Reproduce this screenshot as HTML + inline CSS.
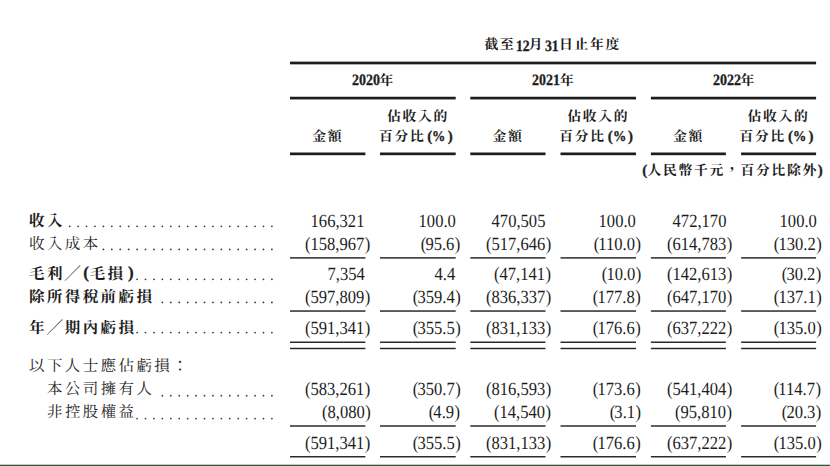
<!DOCTYPE html>
<html lang="zh-Hant"><head><meta charset="utf-8"><title>Financial table</title>
<style>
html,body{margin:0;padding:0;background:#fff}
body{width:830px;height:466px;position:relative;overflow:hidden;font-family:"Liberation Serif","Noto Serif CJK SC",serif;color:#1d1d1d;text-rendering:geometricPrecision}
#g{position:absolute;left:0;top:0;width:830px;height:466px}
.t{position:absolute;white-space:nowrap;line-height:1;font-family:"Liberation Serif","Noto Serif CJK SC",serif}
.t::before{content:"";display:inline-block;width:0;height:20px}
.b{font-weight:bold;-webkit-text-stroke:0.30px #1d1d1d}
.h,.h.b{position:absolute;white-space:nowrap;line-height:1;color:#1d1d1d;-webkit-text-stroke:0 transparent;font-family:"Liberation Serif","Noto Serif CJK SC",serif}
.p{font-style:normal;margin-left:0.50px}
.q{font-style:normal;margin-right:-1.10px}
</style></head><body>
<svg id="g" viewBox="0 0 830 466" fill="#1d1d1d"><g fill="#3a3a3a"><circle cx="271.90" cy="226.30" r="0.90"/><circle cx="263.47" cy="226.30" r="0.90"/><circle cx="255.05" cy="226.30" r="0.90"/><circle cx="246.62" cy="226.30" r="0.90"/><circle cx="238.20" cy="226.30" r="0.90"/><circle cx="229.77" cy="226.30" r="0.90"/><circle cx="221.35" cy="226.30" r="0.90"/><circle cx="212.92" cy="226.30" r="0.90"/><circle cx="204.50" cy="226.30" r="0.90"/><circle cx="196.07" cy="226.30" r="0.90"/><circle cx="187.65" cy="226.30" r="0.90"/><circle cx="179.22" cy="226.30" r="0.90"/><circle cx="170.80" cy="226.30" r="0.90"/><circle cx="162.37" cy="226.30" r="0.90"/><circle cx="153.95" cy="226.30" r="0.90"/><circle cx="145.52" cy="226.30" r="0.90"/><circle cx="137.10" cy="226.30" r="0.90"/><circle cx="128.67" cy="226.30" r="0.90"/><circle cx="120.25" cy="226.30" r="0.90"/><circle cx="111.82" cy="226.30" r="0.90"/><circle cx="103.40" cy="226.30" r="0.90"/><circle cx="94.97" cy="226.30" r="0.90"/><circle cx="86.55" cy="226.30" r="0.90"/><circle cx="78.12" cy="226.30" r="0.90"/><circle cx="69.70" cy="226.30" r="0.90"/><circle cx="271.90" cy="249.45" r="0.90"/><circle cx="263.47" cy="249.45" r="0.90"/><circle cx="255.05" cy="249.45" r="0.90"/><circle cx="246.62" cy="249.45" r="0.90"/><circle cx="238.20" cy="249.45" r="0.90"/><circle cx="229.77" cy="249.45" r="0.90"/><circle cx="221.35" cy="249.45" r="0.90"/><circle cx="212.92" cy="249.45" r="0.90"/><circle cx="204.50" cy="249.45" r="0.90"/><circle cx="196.07" cy="249.45" r="0.90"/><circle cx="187.65" cy="249.45" r="0.90"/><circle cx="179.22" cy="249.45" r="0.90"/><circle cx="170.80" cy="249.45" r="0.90"/><circle cx="162.37" cy="249.45" r="0.90"/><circle cx="153.95" cy="249.45" r="0.90"/><circle cx="145.52" cy="249.45" r="0.90"/><circle cx="137.10" cy="249.45" r="0.90"/><circle cx="128.67" cy="249.45" r="0.90"/><circle cx="120.25" cy="249.45" r="0.90"/><circle cx="111.82" cy="249.45" r="0.90"/><circle cx="103.40" cy="249.45" r="0.90"/><circle cx="271.90" cy="279.30" r="0.90"/><circle cx="263.47" cy="279.30" r="0.90"/><circle cx="255.05" cy="279.30" r="0.90"/><circle cx="246.62" cy="279.30" r="0.90"/><circle cx="238.20" cy="279.30" r="0.90"/><circle cx="229.77" cy="279.30" r="0.90"/><circle cx="221.35" cy="279.30" r="0.90"/><circle cx="212.92" cy="279.30" r="0.90"/><circle cx="204.50" cy="279.30" r="0.90"/><circle cx="196.07" cy="279.30" r="0.90"/><circle cx="187.65" cy="279.30" r="0.90"/><circle cx="179.22" cy="279.30" r="0.90"/><circle cx="170.80" cy="279.30" r="0.90"/><circle cx="162.37" cy="279.30" r="0.90"/><circle cx="153.95" cy="279.30" r="0.90"/><circle cx="145.52" cy="279.30" r="0.90"/><circle cx="137.10" cy="279.30" r="0.90"/><circle cx="271.90" cy="302.45" r="0.90"/><circle cx="263.47" cy="302.45" r="0.90"/><circle cx="255.05" cy="302.45" r="0.90"/><circle cx="246.62" cy="302.45" r="0.90"/><circle cx="238.20" cy="302.45" r="0.90"/><circle cx="229.77" cy="302.45" r="0.90"/><circle cx="221.35" cy="302.45" r="0.90"/><circle cx="212.92" cy="302.45" r="0.90"/><circle cx="204.50" cy="302.45" r="0.90"/><circle cx="196.07" cy="302.45" r="0.90"/><circle cx="187.65" cy="302.45" r="0.90"/><circle cx="179.22" cy="302.45" r="0.90"/><circle cx="170.80" cy="302.45" r="0.90"/><circle cx="162.37" cy="302.45" r="0.90"/><circle cx="271.90" cy="332.60" r="0.90"/><circle cx="263.47" cy="332.60" r="0.90"/><circle cx="255.05" cy="332.60" r="0.90"/><circle cx="246.62" cy="332.60" r="0.90"/><circle cx="238.20" cy="332.60" r="0.90"/><circle cx="229.77" cy="332.60" r="0.90"/><circle cx="221.35" cy="332.60" r="0.90"/><circle cx="212.92" cy="332.60" r="0.90"/><circle cx="204.50" cy="332.60" r="0.90"/><circle cx="196.07" cy="332.60" r="0.90"/><circle cx="187.65" cy="332.60" r="0.90"/><circle cx="179.22" cy="332.60" r="0.90"/><circle cx="170.80" cy="332.60" r="0.90"/><circle cx="162.37" cy="332.60" r="0.90"/><circle cx="153.95" cy="332.60" r="0.90"/><circle cx="145.52" cy="332.60" r="0.90"/><circle cx="137.10" cy="332.60" r="0.90"/><circle cx="271.90" cy="395.70" r="0.90"/><circle cx="263.47" cy="395.70" r="0.90"/><circle cx="255.05" cy="395.70" r="0.90"/><circle cx="246.62" cy="395.70" r="0.90"/><circle cx="238.20" cy="395.70" r="0.90"/><circle cx="229.77" cy="395.70" r="0.90"/><circle cx="221.35" cy="395.70" r="0.90"/><circle cx="212.92" cy="395.70" r="0.90"/><circle cx="204.50" cy="395.70" r="0.90"/><circle cx="196.07" cy="395.70" r="0.90"/><circle cx="187.65" cy="395.70" r="0.90"/><circle cx="179.22" cy="395.70" r="0.90"/><circle cx="170.80" cy="395.70" r="0.90"/><circle cx="162.37" cy="395.70" r="0.90"/><circle cx="271.90" cy="418.55" r="0.90"/><circle cx="263.47" cy="418.55" r="0.90"/><circle cx="255.05" cy="418.55" r="0.90"/><circle cx="246.62" cy="418.55" r="0.90"/><circle cx="238.20" cy="418.55" r="0.90"/><circle cx="229.77" cy="418.55" r="0.90"/><circle cx="221.35" cy="418.55" r="0.90"/><circle cx="212.92" cy="418.55" r="0.90"/><circle cx="204.50" cy="418.55" r="0.90"/><circle cx="196.07" cy="418.55" r="0.90"/><circle cx="187.65" cy="418.55" r="0.90"/><circle cx="179.22" cy="418.55" r="0.90"/><circle cx="170.80" cy="418.55" r="0.90"/><circle cx="162.37" cy="418.55" r="0.90"/><circle cx="153.95" cy="418.55" r="0.90"/><circle cx="145.52" cy="418.55" r="0.90"/><circle cx="137.10" cy="418.55" r="0.90"/></g><rect x="290.00" y="61.65" width="526.10" height="2.70"/><rect x="290.00" y="96.75" width="165.70" height="2.70"/><rect x="470.30" y="96.75" width="165.70" height="2.70"/><rect x="650.90" y="96.75" width="165.20" height="2.70"/><rect x="290.00" y="152.50" width="75.40" height="2.70"/><rect x="380.00" y="152.50" width="75.70" height="2.70"/><rect x="470.30" y="152.50" width="75.20" height="2.70"/><rect x="560.50" y="152.50" width="75.50" height="2.70"/><rect x="650.90" y="152.50" width="75.00" height="2.70"/><rect x="741.10" y="152.50" width="75.00" height="2.70"/><rect x="290.00" y="257.17" width="75.40" height="1.45" fill="#262626"/><rect x="380.00" y="257.17" width="75.70" height="1.45" fill="#262626"/><rect x="470.30" y="257.17" width="75.20" height="1.45" fill="#262626"/><rect x="560.50" y="257.17" width="75.50" height="1.45" fill="#262626"/><rect x="650.90" y="257.17" width="75.00" height="1.45" fill="#262626"/><rect x="741.10" y="257.17" width="75.00" height="1.45" fill="#262626"/><rect x="290.00" y="310.32" width="75.40" height="1.45" fill="#262626"/><rect x="380.00" y="310.32" width="75.70" height="1.45" fill="#262626"/><rect x="470.30" y="310.32" width="75.20" height="1.45" fill="#262626"/><rect x="560.50" y="310.32" width="75.50" height="1.45" fill="#262626"/><rect x="650.90" y="310.32" width="75.00" height="1.45" fill="#262626"/><rect x="741.10" y="310.32" width="75.00" height="1.45" fill="#262626"/><rect x="290.00" y="425.27" width="75.40" height="1.45" fill="#262626"/><rect x="380.00" y="425.27" width="75.70" height="1.45" fill="#262626"/><rect x="470.30" y="425.27" width="75.20" height="1.45" fill="#262626"/><rect x="560.50" y="425.27" width="75.50" height="1.45" fill="#262626"/><rect x="650.90" y="425.27" width="75.00" height="1.45" fill="#262626"/><rect x="741.10" y="425.27" width="75.00" height="1.45" fill="#262626"/><rect x="290.00" y="456.02" width="75.40" height="1.45" fill="#262626"/><rect x="380.00" y="456.02" width="75.70" height="1.45" fill="#262626"/><rect x="470.30" y="456.02" width="75.20" height="1.45" fill="#262626"/><rect x="560.50" y="456.02" width="75.50" height="1.45" fill="#262626"/><rect x="650.90" y="456.02" width="75.00" height="1.45" fill="#262626"/><rect x="741.10" y="456.02" width="75.00" height="1.45" fill="#262626"/><rect x="290.00" y="341.52" width="75.40" height="1.45" fill="#262626"/><rect x="380.00" y="341.52" width="75.70" height="1.45" fill="#262626"/><rect x="470.30" y="341.52" width="75.20" height="1.45" fill="#262626"/><rect x="560.50" y="341.52" width="75.50" height="1.45" fill="#262626"/><rect x="650.90" y="341.52" width="75.00" height="1.45" fill="#262626"/><rect x="741.10" y="341.52" width="75.00" height="1.45" fill="#262626"/><rect x="290.00" y="347.77" width="75.40" height="1.45" fill="#262626"/><rect x="380.00" y="347.77" width="75.70" height="1.45" fill="#262626"/><rect x="470.30" y="347.77" width="75.20" height="1.45" fill="#262626"/><rect x="560.50" y="347.77" width="75.50" height="1.45" fill="#262626"/><rect x="650.90" y="347.77" width="75.00" height="1.45" fill="#262626"/><rect x="741.10" y="347.77" width="75.00" height="1.45" fill="#262626"/><rect x="0" y="464.70" width="830" height="1.30" fill="#2d5c37"/></svg>

<span class="h b" style="left:484.4px;top:38.3px;font-size:13.8px;letter-spacing:1.7px">截至</span>
<span class="t b" style="top:31px;font-size:15.80px;transform:scaleX(0.8700);transform-origin:0 0;left:515.68px;">12</span>
<span class="h b" style="left:528.8px;top:38.3px;font-size:13.8px;letter-spacing:1.7px">月</span>
<span class="t b" style="top:31px;font-size:15.80px;transform:scaleX(0.8700);transform-origin:0 0;left:545.18px;">31</span>
<span class="h b" style="left:559.0px;top:38.3px;font-size:13.8px;letter-spacing:1.7px">日止年度</span>
<span class="t b" style="top:65px;font-size:15.80px;transform:scaleX(0.8850);transform-origin:0 0;left:351.57px;">2020</span>
<span class="h b" style="left:379.5px;top:74.3px;font-size:13.8px;letter-spacing:1.7px">年</span>
<span class="t b" style="top:65px;font-size:15.80px;transform:scaleX(0.8850);transform-origin:0 0;left:532.07px;">2021</span>
<span class="h b" style="left:560.0px;top:74.3px;font-size:13.8px;letter-spacing:1.7px">年</span>
<span class="t b" style="top:65px;font-size:15.80px;transform:scaleX(0.8850);transform-origin:0 0;left:712.57px;">2022</span>
<span class="h b" style="left:740.5px;top:74.3px;font-size:13.8px;letter-spacing:1.7px">年</span>
<span class="h b" style="left:312.2px;top:129.8px;font-size:13.8px;letter-spacing:1.7px">金額</span>
<span class="h b" style="left:386.9px;top:109.5px;font-size:13.8px;letter-spacing:1.7px">佔收入的</span>
<span class="h b" style="left:378.9px;top:129.8px;font-size:13.8px;letter-spacing:1.7px">百分比</span>
<span class="t b" style="top:121px;font-size:15.00px;left:427.25px;">(</span>
<span class="t b" style="top:121px;font-size:15.00px;transform:scaleX(0.8870);transform-origin:0 0;left:432.45px;">%</span>
<span class="t b" style="top:121px;font-size:15.00px;left:447.65px;">)</span>
<span class="h b" style="left:492.4px;top:129.8px;font-size:13.8px;letter-spacing:1.7px">金額</span>
<span class="h b" style="left:567.2px;top:109.5px;font-size:13.8px;letter-spacing:1.7px">佔收入的</span>
<span class="h b" style="left:559.2px;top:129.8px;font-size:13.8px;letter-spacing:1.7px">百分比</span>
<span class="t b" style="top:121px;font-size:15.00px;left:607.65px;">(</span>
<span class="t b" style="top:121px;font-size:15.00px;transform:scaleX(0.8870);transform-origin:0 0;left:612.85px;">%</span>
<span class="t b" style="top:121px;font-size:15.00px;left:628.05px;">)</span>
<span class="h b" style="left:672.9px;top:129.8px;font-size:13.8px;letter-spacing:1.7px">金額</span>
<span class="h b" style="left:747.6px;top:109.5px;font-size:13.8px;letter-spacing:1.7px">佔收入的</span>
<span class="h b" style="left:739.6px;top:129.8px;font-size:13.8px;letter-spacing:1.7px">百分比</span>
<span class="t b" style="top:121px;font-size:15.00px;left:788.00px;">(</span>
<span class="t b" style="top:121px;font-size:15.00px;transform:scaleX(0.8870);transform-origin:0 0;left:793.20px;">%</span>
<span class="t b" style="top:121px;font-size:15.00px;left:808.40px;">)</span>
<span class="t b" style="top:155px;font-size:15.00px;left:642.30px;">(</span>
<span class="h b" style="left:647.6px;top:164.0px;font-size:13.8px;letter-spacing:1.7px">人民幣千元，百分比除外</span>
<span class="t b" style="top:155px;font-size:15.00px;left:817.80px;">)</span>
<span class="h b" style="left:29.0px;top:214.0px;font-size:15.5px;letter-spacing:2.4px">收入</span>
<span class="t" style="top:207px;font-size:18.60px;transform:scaleX(0.8910);transform-origin:100% 0;right:465.30px;">166,321</span>
<span class="t" style="top:207px;font-size:18.60px;transform:scaleX(0.8910);transform-origin:100% 0;right:374.40px;">100.0</span>
<span class="t" style="top:207px;font-size:18.60px;transform:scaleX(0.8910);transform-origin:100% 0;right:284.90px;">470,505</span>
<span class="t" style="top:207px;font-size:18.60px;transform:scaleX(0.8910);transform-origin:100% 0;right:193.80px;">100.0</span>
<span class="t" style="top:207px;font-size:18.60px;transform:scaleX(0.8910);transform-origin:100% 0;right:103.70px;">472,170</span>
<span class="t" style="top:207px;font-size:18.60px;transform:scaleX(0.8910);transform-origin:100% 0;right:13.30px;">100.0</span>
<span class="h" style="left:29.0px;top:237.0px;font-size:15.5px;letter-spacing:2.4px">收入成本</span>
<span class="t" style="top:230px;font-size:18.60px;transform:scaleX(0.8910);transform-origin:100% 0;right:459.45px;">(158,967<i class="p">)</i></span>
<span class="t" style="top:230px;font-size:18.60px;transform:scaleX(0.8910);transform-origin:100% 0;right:369.75px;"><i class="q">(</i>95.6<i class="p">)</i></span>
<span class="t" style="top:230px;font-size:18.60px;transform:scaleX(0.8910);transform-origin:100% 0;right:279.05px;">(517,646<i class="p">)</i></span>
<span class="t" style="top:230px;font-size:18.60px;transform:scaleX(0.8910);transform-origin:100% 0;right:189.15px;"><i class="q">(</i>110.0<i class="p">)</i></span>
<span class="t" style="top:230px;font-size:18.60px;transform:scaleX(0.8910);transform-origin:100% 0;right:97.85px;">(614,783<i class="p">)</i></span>
<span class="t" style="top:230px;font-size:18.60px;transform:scaleX(0.8910);transform-origin:100% 0;right:8.65px;"><i class="q">(</i>130.2<i class="p">)</i></span>
<span class="h b" style="left:29.0px;top:267.0px;font-size:15.5px;letter-spacing:2.4px">毛利╱</span>
<span class="t b" style="top:258px;font-size:17.00px;left:83.30px;">(</span>
<span class="h b" style="left:89.7px;top:267.0px;font-size:15.5px;letter-spacing:2.4px">毛損</span>
<span class="t b" style="top:258px;font-size:17.00px;left:128.00px;">)</span>
<span class="t" style="top:260px;font-size:18.60px;transform:scaleX(0.8910);transform-origin:100% 0;right:465.30px;">7,354</span>
<span class="t" style="top:260px;font-size:18.60px;transform:scaleX(0.8910);transform-origin:100% 0;right:374.40px;">4.4</span>
<span class="t" style="top:260px;font-size:18.60px;transform:scaleX(0.8910);transform-origin:100% 0;right:279.05px;">(47,141<i class="p">)</i></span>
<span class="t" style="top:260px;font-size:18.60px;transform:scaleX(0.8910);transform-origin:100% 0;right:189.15px;"><i class="q">(</i>10.0<i class="p">)</i></span>
<span class="t" style="top:260px;font-size:18.60px;transform:scaleX(0.8910);transform-origin:100% 0;right:97.85px;">(142,613<i class="p">)</i></span>
<span class="t" style="top:260px;font-size:18.60px;transform:scaleX(0.8910);transform-origin:100% 0;right:8.65px;"><i class="q">(</i>30.2<i class="p">)</i></span>
<span class="h b" style="left:29.0px;top:290.0px;font-size:15.5px;letter-spacing:2.4px">除所得稅前虧損</span>
<span class="t" style="top:283px;font-size:18.60px;transform:scaleX(0.8910);transform-origin:100% 0;right:459.45px;">(597,809<i class="p">)</i></span>
<span class="t" style="top:283px;font-size:18.60px;transform:scaleX(0.8910);transform-origin:100% 0;right:369.75px;"><i class="q">(</i>359.4<i class="p">)</i></span>
<span class="t" style="top:283px;font-size:18.60px;transform:scaleX(0.8910);transform-origin:100% 0;right:279.05px;">(836,337<i class="p">)</i></span>
<span class="t" style="top:283px;font-size:18.60px;transform:scaleX(0.8910);transform-origin:100% 0;right:189.15px;"><i class="q">(</i>177.8<i class="p">)</i></span>
<span class="t" style="top:283px;font-size:18.60px;transform:scaleX(0.8910);transform-origin:100% 0;right:97.85px;">(647,170<i class="p">)</i></span>
<span class="t" style="top:283px;font-size:18.60px;transform:scaleX(0.8910);transform-origin:100% 0;right:8.65px;"><i class="q">(</i>137.1<i class="p">)</i></span>
<span class="h b" style="left:29.0px;top:321.0px;font-size:15.5px;letter-spacing:2.4px">年╱期內虧損</span>
<span class="t" style="top:314px;font-size:18.60px;transform:scaleX(0.8910);transform-origin:100% 0;right:459.45px;">(591,341<i class="p">)</i></span>
<span class="t" style="top:314px;font-size:18.60px;transform:scaleX(0.8910);transform-origin:100% 0;right:369.75px;"><i class="q">(</i>355.5<i class="p">)</i></span>
<span class="t" style="top:314px;font-size:18.60px;transform:scaleX(0.8910);transform-origin:100% 0;right:279.05px;">(831,133<i class="p">)</i></span>
<span class="t" style="top:314px;font-size:18.60px;transform:scaleX(0.8910);transform-origin:100% 0;right:189.15px;"><i class="q">(</i>176.6<i class="p">)</i></span>
<span class="t" style="top:314px;font-size:18.60px;transform:scaleX(0.8910);transform-origin:100% 0;right:97.85px;">(637,222<i class="p">)</i></span>
<span class="t" style="top:314px;font-size:18.60px;transform:scaleX(0.8910);transform-origin:100% 0;right:8.65px;"><i class="q">(</i>135.0<i class="p">)</i></span>
<span class="h" style="left:29.0px;top:359.0px;font-size:15.5px;letter-spacing:2.4px">以下人士應佔虧損：</span>
<span class="h" style="left:47.0px;top:382.0px;font-size:15.5px;letter-spacing:2.4px">本公司擁有人</span>
<span class="t" style="top:375px;font-size:18.60px;transform:scaleX(0.8910);transform-origin:100% 0;right:459.45px;">(583,261<i class="p">)</i></span>
<span class="t" style="top:375px;font-size:18.60px;transform:scaleX(0.8910);transform-origin:100% 0;right:369.75px;"><i class="q">(</i>350.7<i class="p">)</i></span>
<span class="t" style="top:375px;font-size:18.60px;transform:scaleX(0.8910);transform-origin:100% 0;right:279.05px;">(816,593<i class="p">)</i></span>
<span class="t" style="top:375px;font-size:18.60px;transform:scaleX(0.8910);transform-origin:100% 0;right:189.15px;"><i class="q">(</i>173.6<i class="p">)</i></span>
<span class="t" style="top:375px;font-size:18.60px;transform:scaleX(0.8910);transform-origin:100% 0;right:97.85px;">(541,404<i class="p">)</i></span>
<span class="t" style="top:375px;font-size:18.60px;transform:scaleX(0.8910);transform-origin:100% 0;right:8.65px;"><i class="q">(</i>114.7<i class="p">)</i></span>
<span class="h" style="left:47.0px;top:405.0px;font-size:15.5px;letter-spacing:2.4px">非控股權益</span>
<span class="t" style="top:398px;font-size:18.60px;transform:scaleX(0.8910);transform-origin:100% 0;right:459.45px;">(8,080<i class="p">)</i></span>
<span class="t" style="top:398px;font-size:18.60px;transform:scaleX(0.8910);transform-origin:100% 0;right:369.75px;"><i class="q">(</i>4.9<i class="p">)</i></span>
<span class="t" style="top:398px;font-size:18.60px;transform:scaleX(0.8910);transform-origin:100% 0;right:279.05px;">(14,540<i class="p">)</i></span>
<span class="t" style="top:398px;font-size:18.60px;transform:scaleX(0.8910);transform-origin:100% 0;right:189.15px;"><i class="q">(</i>3.1<i class="p">)</i></span>
<span class="t" style="top:398px;font-size:18.60px;transform:scaleX(0.8910);transform-origin:100% 0;right:97.85px;">(95,810<i class="p">)</i></span>
<span class="t" style="top:398px;font-size:18.60px;transform:scaleX(0.8910);transform-origin:100% 0;right:8.65px;"><i class="q">(</i>20.3<i class="p">)</i></span>
<span class="t" style="top:429px;font-size:18.60px;transform:scaleX(0.8910);transform-origin:100% 0;right:459.45px;">(591,341<i class="p">)</i></span>
<span class="t" style="top:429px;font-size:18.60px;transform:scaleX(0.8910);transform-origin:100% 0;right:369.75px;"><i class="q">(</i>355.5<i class="p">)</i></span>
<span class="t" style="top:429px;font-size:18.60px;transform:scaleX(0.8910);transform-origin:100% 0;right:279.05px;">(831,133<i class="p">)</i></span>
<span class="t" style="top:429px;font-size:18.60px;transform:scaleX(0.8910);transform-origin:100% 0;right:189.15px;"><i class="q">(</i>176.6<i class="p">)</i></span>
<span class="t" style="top:429px;font-size:18.60px;transform:scaleX(0.8910);transform-origin:100% 0;right:97.85px;">(637,222<i class="p">)</i></span>
<span class="t" style="top:429px;font-size:18.60px;transform:scaleX(0.8910);transform-origin:100% 0;right:8.65px;"><i class="q">(</i>135.0<i class="p">)</i></span>
</body></html>
